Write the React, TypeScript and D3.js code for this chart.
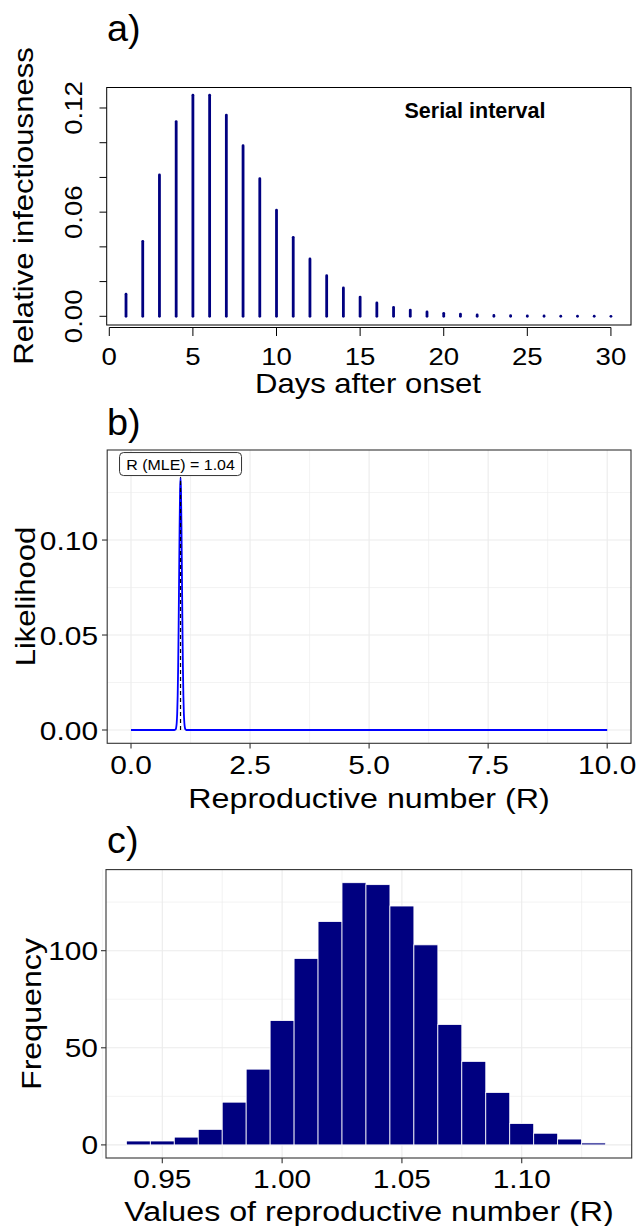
import React from "react";
import * as d3 from "d3";

// a) serial interval
const siDays = [1, 2, 3, 4, 5, 6, 7, 8, 9, 10, 11, 12, 13, 14, 15, 16, 17, 18, 19, 20, 21, 22, 23, 24, 25, 26, 27, 28, 29, 30];
const siValues = [
  0.0127, 0.0432, 0.0814, 0.1122, 0.1274, 0.1274, 0.1159, 0.0983, 0.0793, 0.0611,
  0.0455, 0.033, 0.0234, 0.0163, 0.0111, 0.0077, 0.0052, 0.0036, 0.0025, 0.0017,
  0.0012, 0.0008, 0.0005, 0.0004, 0.0003, 0.0002, 0.0001, 0.0001, 0.0001, 0.0,
];
const siXTicks = [0, 5, 10, 15, 20, 25, 30];
const siYTicks = [0, 0.02, 0.04, 0.06, 0.08, 0.1, 0.12];
const siYLabels = [0, 0.06, 0.12];

// b) likelihood
const likeR = [0, 0.91, 0.92, 0.93, 0.94, 0.95, 0.96, 0.97, 0.98, 0.99, 1.0, 1.01, 1.02, 1.03, 1.04, 1.05, 1.06, 1.07, 1.08, 1.09, 1.1, 1.11, 1.12, 1.13, 1.14, 1.15, 1.16, 10];
const likeValues = [0, 0, 0.00004, 0.0002, 0.0005, 0.0015, 0.0038, 0.0087, 0.018, 0.0331, 0.0547, 0.0807, 0.1065, 0.1258, 0.133, 0.1258, 0.1065, 0.0807, 0.0547, 0.0331, 0.018, 0.0087, 0.0038, 0.0015, 0.0005, 0.0002, 0, 0];
const mleR = 1.04;
const mleLabel = "R (MLE) = 1.04";
const likeXTicks = [0, 2.5, 5, 7.5, 10];
const likeXMinor = [1.25, 3.75, 6.25, 8.75];
const likeYTicks = [0, 0.05, 0.1];
const likeYMinor = [0.025, 0.075, 0.125];

// c) histogram
const binStarts = [0.935, 0.945, 0.955, 0.965, 0.975, 0.985, 0.995, 1.005, 1.015, 1.025, 1.035, 1.045, 1.055, 1.065, 1.075, 1.085, 1.095, 1.105, 1.115, 1.125];
const binCounts = [2, 2, 4, 8, 22, 39, 64, 96, 115, 135, 134, 123, 103, 62, 43, 27, 11, 6, 3, 1];
const binWidth = 0.01;
const histXTicks = [0.95, 1.0, 1.05, 1.1];
const histXMinor = [0.925, 0.975, 1.025, 1.075, 1.125];
const histYTicks = [0, 50, 100];
const histYMinor = [25, 75, 125];

const FONT = "Liberation Sans, Arial, Helvetica, sans-serif";
const ST = 1.15;

function T({ x, y, size, anchor = "start", rot = 0, s = ST, weight = "normal", children }: any) {
  return (
    <text
      transform={`translate(${x},${y}) rotate(${rot}) scale(${s},1)`}
      fontSize={size}
      textAnchor={anchor}
      fontFamily={FONT}
      fontWeight={weight}
      fill="#000"
    >
      {children}
    </text>
  );
}

export default function App() {
  // panel a scales
  const xA = d3.scaleLinear().domain([-0.155, 31.2]).range([106.7, 631]);
  const yA = d3.scaleLinear().domain([-0.00501, 0.1318]).range([325, 87.5]);
  // panel b scales
  const xB = d3.scaleLinear().domain([-0.5, 10.5]).range([107.2, 631]);
  const yB = d3.scaleLinear().domain([-0.007, 0.1474]).range([743.3, 450]);
  // panel c scales
  const xC = d3.scaleLinear().domain([0.9265, 1.1459]).range([106, 631.7]);
  const yC = d3.scaleLinear().domain([-6.75, 141.75]).range([1158, 869.6]);

  const likeLine = d3
    .line<number>()
    .x((d, i) => xB(likeR[i]))
    .y((d) => yB(d))
    .curve(d3.curveMonotoneX);

  const grid = "#EBEBEB";
  const border = "#333333";

  return (
    <svg width={641} height={1226} style={{ position: "absolute", left: 0, top: 0, background: "#fff" }}>
      <rect width={641} height={1226} fill="#fff" />

      {/* ---------- a) ---------- */}
      <T x={107} y={41} size={36} s={1.05}>a)</T>
      <rect x={106.7} y={87.5} width={631 - 106.7} height={325 - 87.5} fill="none" stroke="#000" strokeWidth={1} />
      {siDays.map((d, i) => (
        <line
          key={d}
          x1={xA(d)}
          x2={xA(d)}
          y1={yA(0)}
          y2={yA(siValues[i])}
          stroke="#000080"
          strokeWidth={2.8}
          strokeLinecap="round"
        />
      ))}
      <T x={475} y={118} size={21.5} anchor="middle" s={1} weight="bold">Serial interval</T>
      {/* x axis */}
      <line x1={xA(0)} x2={xA(30)} y1={327.5} y2={327.5} stroke="#000" />
      {siXTicks.map((t) => (
        <g key={t}>
          <line x1={xA(t)} x2={xA(t)} y1={327.5} y2={336} stroke="#000" />
          <T x={xA(t)} y={365} size={24} anchor="middle">{t}</T>
        </g>
      ))}
      {/* y axis */}
      {siYTicks.map((t) => (
        <line key={t} x1={99.5} x2={106.7} y1={yA(t)} y2={yA(t)} stroke="#000" />
      ))}
      {siYLabels.map((t) => (
        <T key={t} x={82} y={yA(t)} size={24} anchor="middle" rot={-90}>{t.toFixed(2)}</T>
      ))}
      <T x={368} y={393} size={27} anchor="middle">Days after onset</T>
      <T x={33} y={206} size={27} anchor="middle" rot={-90}>Relative infectiousness</T>

      {/* ---------- b) ---------- */}
      <T x={107} y={435} size={36} s={1.05}>b)</T>
      <g>
        {likeXMinor.map((t) => (
          <line key={"xm" + t} x1={xB(t)} x2={xB(t)} y1={450} y2={743.3} stroke={grid} strokeWidth={0.6} />
        ))}
        {likeYMinor.map((t) => (
          <line key={"ym" + t} x1={107.2} x2={631} y1={yB(t)} y2={yB(t)} stroke={grid} strokeWidth={0.6} />
        ))}
        {likeXTicks.map((t) => (
          <line key={"x" + t} x1={xB(t)} x2={xB(t)} y1={450} y2={743.3} stroke={grid} strokeWidth={1.1} />
        ))}
        {likeYTicks.map((t) => (
          <line key={"y" + t} x1={107.2} x2={631} y1={yB(t)} y2={yB(t)} stroke={grid} strokeWidth={1.1} />
        ))}
      </g>
      <path d={likeLine(likeValues) || ""} fill="none" stroke="#0000FF" strokeWidth={1.8} />
      <line
        x1={xB(mleR)}
        x2={xB(mleR)}
        y1={yB(0)}
        y2={yB(d3.max(likeValues) as number)}
        stroke="#000"
        strokeWidth={1.2}
        strokeDasharray="4,3"
      />
      <rect x={xB(mleR) - 61} y={yB(0.14) - 11.5} width={122} height={23} rx={4} fill="#fff" stroke={border} strokeWidth={1} />
      <T x={xB(mleR)} y={yB(0.14) + 5.6} size={15.5} anchor="middle" s={1.03}>{mleLabel}</T>
      <rect x={107.2} y={450} width={631 - 107.2} height={743.3 - 450} fill="none" stroke={border} strokeWidth={1.1} />
      {likeXTicks.map((t) => (
        <g key={t}>
          <line x1={xB(t)} x2={xB(t)} y1={743.3} y2={748.5} stroke={border} strokeWidth={1.1} />
          <T x={xB(t)} y={774} size={26} anchor="middle">{t.toFixed(1)}</T>
        </g>
      ))}
      {likeYTicks.map((t) => (
        <g key={t}>
          <line x1={102} x2={107.2} y1={yB(t)} y2={yB(t)} stroke={border} strokeWidth={1.1} />
          <T x={98} y={yB(t) + 9.5} size={26} anchor="end">{t.toFixed(2)}</T>
        </g>
      ))}
      <T x={369} y={808} size={28} anchor="middle">Reproductive number (R)</T>
      <T x={35} y={596.5} size={27} anchor="middle" rot={-90}>Likelihood</T>

      {/* ---------- c) ---------- */}
      <T x={107} y={853} size={36} s={1.05}>c)</T>
      <g>
        {histXMinor.map((t) => (
          <line key={"xm" + t} x1={xC(t)} x2={xC(t)} y1={869.6} y2={1158} stroke={grid} strokeWidth={0.6} />
        ))}
        {histYMinor.map((t) => (
          <line key={"ym" + t} x1={106} x2={631.7} y1={yC(t)} y2={yC(t)} stroke={grid} strokeWidth={0.6} />
        ))}
        {histXTicks.map((t) => (
          <line key={"x" + t} x1={xC(t)} x2={xC(t)} y1={869.6} y2={1158} stroke={grid} strokeWidth={1.1} />
        ))}
        {histYTicks.map((t) => (
          <line key={"y" + t} x1={106} x2={631.7} y1={yC(t)} y2={yC(t)} stroke={grid} strokeWidth={1.1} />
        ))}
      </g>
      {binStarts.map((b, i) => (
        <rect
          key={b}
          x={xC(b)}
          y={yC(binCounts[i])}
          width={xC(b + binWidth) - xC(b)}
          height={yC(0) - yC(binCounts[i])}
          fill="#000080"
          stroke="#fff"
          strokeWidth={0.8}
        />
      ))}
      <rect x={106} y={869.6} width={631.7 - 106} height={1158 - 869.6} fill="none" stroke={border} strokeWidth={1.1} />
      {histXTicks.map((t) => (
        <g key={t}>
          <line x1={xC(t)} x2={xC(t)} y1={1158} y2={1163.2} stroke={border} strokeWidth={1.1} />
          <T x={xC(t)} y={1188} size={26} anchor="middle">{t.toFixed(2)}</T>
        </g>
      ))}
      {histYTicks.map((t) => (
        <g key={t}>
          <line x1={101} x2={106} y1={yC(t)} y2={yC(t)} stroke={border} strokeWidth={1.1} />
          <T x={98} y={yC(t) + 9.5} size={26} anchor="end">{t}</T>
        </g>
      ))}
      <T x={369} y={1221} size={28} anchor="middle">Values of reproductive number (R)</T>
      <T x={41} y={1014} size={28} anchor="middle" rot={-90}>Frequency</T>
    </svg>
  );
}
